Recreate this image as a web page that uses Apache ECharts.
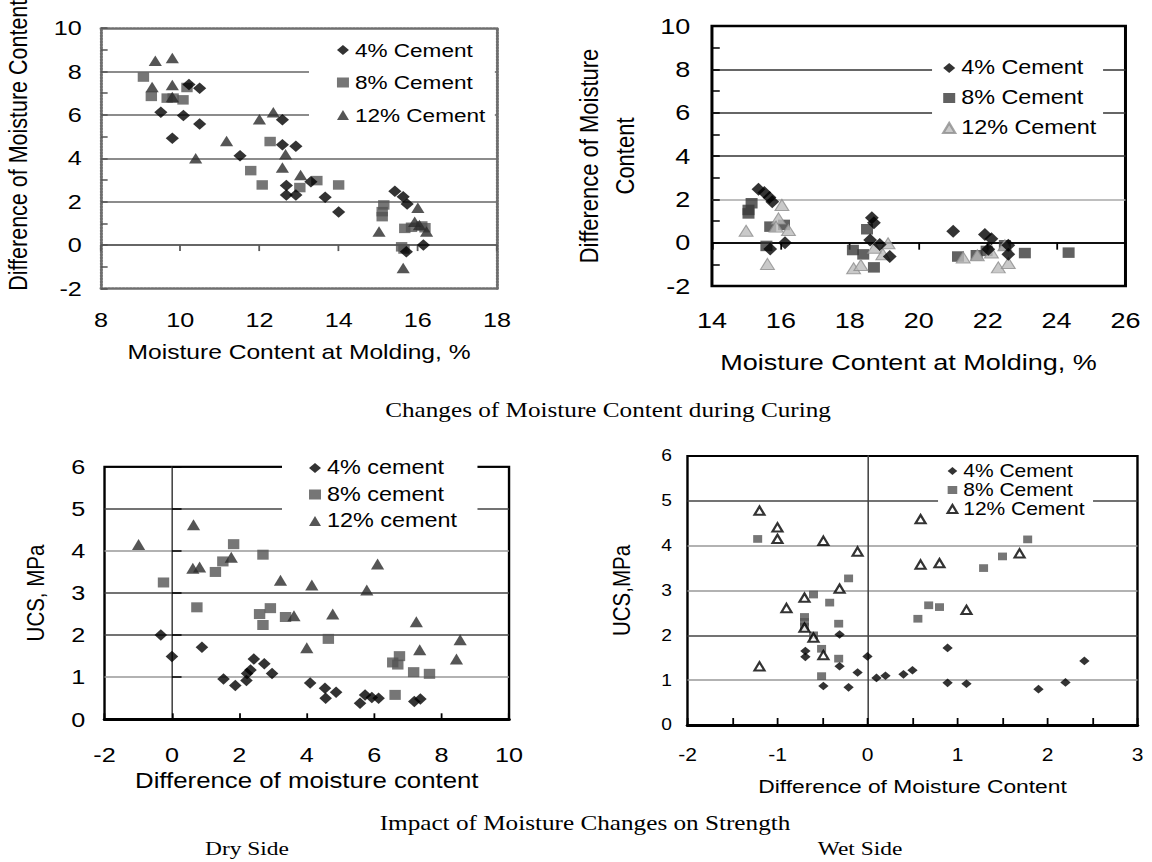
<!DOCTYPE html>
<html>
<head>
<meta charset="utf-8">
<script src="https://cdn.jsdelivr.net/npm/echarts@6/dist/echarts.min.js"></script>
<style>
  html, body { margin: 0; padding: 0; background: #fff; overflow: hidden; }
  #stage { width: 1152px; height: 862px; overflow: hidden; }
  /* the figure is laid out on a narrower canvas and widened horizontally */
  #chart { width: 960px; height: 862px; transform: scaleX(1.2); transform-origin: 0 0; }
</style>
</head>
<body>
<div id="stage"><div id="chart"></div></div>
<script>
// Change of moisture content during curing, specimens molded dry of optimum: [moisture at molding %, change %]
const curingDry4 = [[9.51,6.12],[9.8,4.92],[10.08,5.97],[10.22,7.4],[10.49,7.23],[10.49,5.58],[11.51,4.12],[12.58,5.77],[12.58,4.62],[12.92,4.55],[12.68,2.75],[12.68,2.31],[12.92,2.31],[13.3,2.92],[13.66,2.2],[14.0,1.52],[15.42,2.48],[15.63,2.23],[15.73,1.89],[15.71,-0.31],[16.14,0.0]];
const curingDry8 = [[9.07,7.74],[9.27,6.85],[9.67,6.77],[9.82,6.77],[10.07,6.69],[10.17,7.26],[11.78,3.43],[12.07,2.77],[12.27,4.77],[13.02,2.65],[13.45,2.97],[14.0,2.77],[15.14,1.85],[15.1,1.54],[15.1,1.31],[15.67,0.77],[15.84,0.82],[16.1,0.88],[16.18,0.8],[15.59,-0.08],[15.65,-0.18]];
const curingDry12 = [[9.37,8.49],[9.8,8.62],[9.29,7.28],[9.8,7.38],[9.8,6.82],[10.39,4.0],[11.17,4.8],[12.0,5.8],[12.35,6.12],[12.66,4.18],[12.58,3.57],[13.04,3.23],[15.02,0.62],[16.0,1.72],[15.92,1.08],[16.04,0.92],[16.22,0.62],[15.63,-1.05]];

// Same measurement for specimens molded wet of optimum
const curingWet4 = [[15.35,2.46],[15.52,2.31],[15.67,2.09],[15.75,1.89],[16.12,0.0],[15.69,-0.29],[18.64,1.15],[18.7,0.92],[18.59,0.12],[18.87,-0.08],[19.16,-0.64],[21.0,0.53],[21.92,0.38],[22.11,0.18],[22.02,-0.3],[22.6,-0.12],[22.6,-0.53]];
const curingWet8 = [[15.15,1.82],[15.06,1.51],[15.06,1.35],[15.69,0.74],[16.09,0.82],[15.58,-0.15],[18.5,0.62],[18.09,-0.34],[18.39,-0.54],[18.7,-1.14],[21.14,-0.64],[21.68,-0.58],[21.97,-0.38],[22.5,-0.12],[23.08,-0.48],[24.35,-0.46]];
const curingWet12 = [[14.99,0.55],[16.03,1.74],[15.93,1.12],[15.86,0.74],[16.22,0.58],[15.61,-0.98],[18.11,-1.18],[18.32,-1.03],[18.72,-0.23],[18.96,-0.53],[19.11,-0.03],[21.29,-0.68],[21.7,-0.58],[22.11,-0.45],[22.31,-1.14],[22.6,-0.94],[22.5,-0.12]];

// Unconfined compressive strength vs. moisture change: [difference of moisture content, UCS MPa]
const strengthDry4 = [[-0.33,2.0],[0.0,1.49],[0.89,1.71],[1.53,0.96],[1.88,0.8],[2.21,0.92],[2.23,1.09],[2.33,1.17],[2.43,1.43],[2.74,1.32],[2.97,1.09],[4.1,0.86],[4.54,0.74],[4.56,0.5],[4.87,0.64],[5.58,0.38],[5.73,0.58],[5.93,0.52],[6.13,0.5],[7.19,0.42],[7.37,0.48]];
const strengthDry8 = [[-0.25,3.25],[0.74,2.66],[1.29,3.5],[1.51,3.75],[1.83,4.16],[2.6,2.5],[2.7,2.24],[2.7,3.91],[2.92,2.64],[3.37,2.43],[4.64,1.91],[6.55,1.35],[6.7,1.3],[6.75,1.5],[7.17,1.12],[7.64,1.08],[6.62,0.58]];
const strengthDry12 = [[-0.99,4.15],[0.64,4.62],[0.62,3.59],[0.82,3.62],[1.76,3.85],[3.22,3.3],[3.62,2.46],[4.0,1.7],[4.15,3.19],[4.77,2.5],[5.78,3.07],[6.1,3.69],[7.25,2.32],[7.35,1.65],[8.44,1.43],[8.55,1.89]];

const strengthWet4 = [[-0.31,2.02],[-0.69,1.65],[-0.69,1.52],[-0.31,1.31],[-0.11,1.17],[0.0,1.53],[-0.49,0.87],[-0.21,0.84],[0.1,1.05],[0.2,1.1],[0.4,1.13],[0.5,1.22],[0.89,1.72],[0.89,0.94],[1.1,0.92],[1.9,0.8],[2.2,0.95],[2.41,1.43]];
const strengthWet8 = [[-1.22,4.15],[-0.21,3.27],[-0.6,2.91],[-0.42,2.73],[-0.7,2.41],[-0.7,2.3],[-0.7,2.19],[-0.32,2.26],[-0.6,2.0],[-0.51,1.7],[-0.32,1.48],[-0.51,1.09],[0.56,2.37],[0.68,2.67],[0.8,2.63],[1.29,3.5],[1.5,3.76],[1.78,4.14]];
const strengthWet12 = [[-1.2,4.78],[-1.0,4.41],[-1.0,4.15],[-0.49,4.11],[-0.11,3.87],[-0.31,3.04],[-0.7,2.84],[-0.9,2.61],[-0.7,2.17],[-0.6,1.95],[-0.49,1.56],[-1.2,1.31],[0.59,4.59],[0.59,3.58],[0.8,3.61],[1.1,2.57],[1.69,3.83]];

// Legend wording (upper- and lower-case variants)
const cementUpper = ['4% Cement', '8% Cement', '12% Cement'];
const cementLower = ['4% cement', '8% cement', '12% cement'];

// Captions
const captionCuring = 'Changes of Moisture Content during Curing';
const captionStrength = 'Impact of Moisture Changes on Strength';
const captionDry = 'Dry Side';
const captionWet = 'Wet Side';

const SANS = "'Liberation Sans', Arial, Helvetica, sans-serif";
const SERIF = "'Liberation Serif', 'Times New Roman', serif";

// series names carry a panel prefix "N|" so each legend picks up its own styling
const key = (panel, label) => panel + '|' + label;
const stripKey = name => name.split('|')[1];

function txt(size, extra) {
  return Object.assign({ color: '#000', fontFamily: SANS, fontSize: size }, extra || {});
}

// x axis holding the tick labels at the bottom edge of a panel
function labelAxisX(grid, min, max, interval, cfg) {
  return {
    gridIndex: grid, type: 'value', min: min, max: max, interval: interval, position: 'bottom',
    axisLine: cfg.axisLine || { show: false, onZero: false },
    axisTick: cfg.axisTick || { show: false },
    splitLine: { show: false },
    axisLabel: Object.assign({ margin: cfg.margin, showMinLabel: true, showMaxLabel: true }, txt(cfg.fontSize), cfg.formatter ? { formatter: cfg.formatter } : {}),
    name: cfg.name, nameLocation: 'middle', nameGap: cfg.nameGap,
    nameTextStyle: txt(cfg.nameSize, cfg.namePad ? { padding: cfg.namePad } : {})
  };
}

// x axis drawn along the zero line, carrying only downward tick marks
function zeroAxisX(grid, min, max, interval, color, tickLen) {
  return {
    gridIndex: grid, type: 'value', min: min, max: max, interval: interval, position: 'top',
    axisLine: { show: true, onZero: true, lineStyle: { color: color, width: 1.5 } },
    axisTick: { show: true, inside: true, length: tickLen, lineStyle: { color: color, width: 1.5 } },
    axisLabel: { show: false }, splitLine: { show: false }
  };
}

// y axis drawn at x = 0 inside a panel
function zeroAxisY(grid, min, max, interval, tick) {
  return {
    gridIndex: grid, type: 'value', min: min, max: max, interval: interval, position: 'left',
    axisLine: { show: true, onZero: true, lineStyle: { color: '#444', width: 1.3 } },
    axisTick: tick ? { show: true, inside: true, length: tick, lineStyle: { color: '#000', width: 1.5 } } : { show: false },
    axisLabel: { show: false }, splitLine: { show: false }
  };
}

// dotted frame edge of the first panel
const dottedEdge = { show: true, onZero: false, lineStyle: { color: '#6e6e6e', width: 2.5, type: [1.5, 1.5] } };
function frameAxis(dim, grid, min, max, position) {
  return {
    gridIndex: grid, type: 'value', min: min, max: max, position: position,
    axisLine: dottedEdge, axisTick: { show: false }, axisLabel: { show: false }, splitLine: { show: false }
  };
}

function scatter(name, xi, yi, data, symbol, size, style) {
  return {
    type: 'scatter', name: name, xAxisIndex: xi, yAxisIndex: yi, data: data,
    symbol: symbol, symbolSize: size, itemStyle: style, z: 3,
    emphasis: { disabled: true }
  };
}

const black = { color: '#000' };
const grey = { color: '#545454' };
const darkTri = { color: '#2a2a2a' };

function legend(panel, labels, box) {
  return {
    orient: 'vertical', left: box.left, top: box.top, padding: box.padding,
    backgroundColor: '#fff', itemWidth: box.icon, itemHeight: box.icon, itemGap: box.gap,
    selectedMode: false,
    formatter: stripKey,
    textStyle: txt(box.fontSize, { lineHeight: box.lineHeight }),
    data: labels.map(l => key(panel, l))
  };
}

const chart = echarts.init(document.getElementById('chart'), null, { renderer: 'svg' });

const option = {
  animation: false,
  backgroundColor: '#fff',
  textStyle: { fontFamily: SANS },
  grid: [
    { left: 84.2, top: 28, width: 330, height: 260.5, show: false, outerBoundsMode: 'none' },
    { left: 593.3, top: 26, width: 344.6, height: 260, show: true, borderColor: '#000', borderWidth: 2.5, backgroundColor: 'transparent', outerBoundsMode: 'none' },
    { left: 87.1, top: 466.7, width: 337.1, height: 252.6, show: true, borderColor: '#000', borderWidth: 2, backgroundColor: 'transparent', outerBoundsMode: 'none' },
    { left: 572.9, top: 456, width: 375, height: 269, show: true, borderColor: '#000', borderWidth: 2, backgroundColor: 'transparent', outerBoundsMode: 'none' }
  ],
  xAxis: [
    labelAxisX(0, 8, 18, 2, { margin: 21, fontSize: 21, name: 'Moisture Content at Molding, %', nameGap: 53.5, nameSize: 20.5, axisLine: dottedEdge }),
    zeroAxisX(0, 8, 18, 2, '#5a5a5a', 6),
    labelAxisX(1, 14, 26, 2, { margin: 23, fontSize: 22.5, name: 'Moisture Content at Molding, %', nameGap: 65, nameSize: 22.5, namePad: [0, 17, 0, 0] }),
    zeroAxisX(1, 14, 26, 2, '#000', 7),
    labelAxisX(2, -2, 10, 2, {
      margin: 25, fontSize: 21, name: 'Difference of moisture content', nameGap: 50, nameSize: 21.5,
      axisLine: { show: true, onZero: false, lineStyle: { color: '#000', width: 3 } },
      axisTick: { show: true, inside: true, length: 6, lineStyle: { color: '#000', width: 1.5 } }
    }),
    labelAxisX(3, -2, 3, 0.5, {
      margin: 21, fontSize: 17.5, name: 'Difference of Moisture Content', nameGap: 51.5, nameSize: 19,
      formatter: v => (Number.isInteger(v) ? String(v) : ''),
      axisLine: { show: true, onZero: false, lineStyle: { color: '#000', width: 3 } },
      axisTick: { show: true, inside: true, length: 7, lineStyle: { color: '#000', width: 1.5 } }
    }),
    frameAxis('x', 0, 8, 18, 'top')
  ],
  yAxis: [
    {
      gridIndex: 0, type: 'value', min: -2, max: 10, interval: 2, position: 'left',
      axisLine: dottedEdge,
      axisTick: { show: true, inside: true, length: 5.5, lineStyle: { color: '#555', width: 1.5 } },
      minorTick: { show: true, splitNumber: 2, length: 5.5, lineStyle: { color: '#555', width: 1.5 } },
      splitLine: { show: true, showMinLine: false, showMaxLine: false, lineStyle: { color: '#666', width: 1.5 } },
      axisLabel: Object.assign({ margin: 16, showMinLabel: true, showMaxLabel: true }, txt(21)),
      name: 'Difference of Moisture Content', nameLocation: 'middle', nameRotate: 90, nameGap: 58,
      nameTextStyle: txt(21.5, { padding: [0, 0, 0, 26] })
    },
    {
      gridIndex: 1, type: 'value', min: -2, max: 10, interval: 2, position: 'left',
      axisLine: { show: false, onZero: false },
      axisTick: { show: true, inside: true, length: 6.5, lineStyle: { color: '#000', width: 1.5 } },
      minorTick: { show: true, splitNumber: 2, length: 6.5, lineStyle: { color: '#000', width: 1.5 } },
      splitLine: { show: true, lineStyle: { color: ['#000', '#000', '#a8a8a8', '#333', '#333', '#333', '#000'], width: 1.5 } },
      axisLabel: Object.assign({ margin: 18, showMinLabel: true, showMaxLabel: true }, txt(22.5)),
      name: 'Difference of Moisture\nContent', nameLocation: 'middle', nameRotate: 90, nameGap: 58,
      nameTextStyle: txt(22, { lineHeight: 30 })
    },
    {
      gridIndex: 2, type: 'value', min: 0, max: 6, interval: 1, position: 'left',
      axisLine: { show: false, onZero: false }, axisTick: { show: false },
      splitLine: { show: true, lineStyle: { color: ['#000', '#999', '#444', '#444', '#999', '#444', '#000'], width: 1.5 } },
      axisLabel: Object.assign({ margin: 16, showMinLabel: true, showMaxLabel: true }, txt(21)),
      name: 'UCS, MPa', nameLocation: 'middle', nameRotate: 90, nameGap: 47,
      nameTextStyle: txt(20.5)
    },
    zeroAxisY(2, 0, 6, 1, 8),
    {
      gridIndex: 3, type: 'value', min: 0, max: 6, interval: 1, position: 'left',
      axisLine: { show: false, onZero: false }, axisTick: { show: false },
      splitLine: { show: true, lineStyle: { color: ['#000', '#999', '#444', '#999', '#999', '#444', '#000'], width: 1.5 } },
      axisLabel: Object.assign({ margin: 13, showMinLabel: true, showMaxLabel: true }, txt(16)),
      name: 'UCS,MPa', nameLocation: 'middle', nameRotate: 90, nameGap: 44,
      nameTextStyle: txt(20.5)
    },
    zeroAxisY(3, 0, 6, 1, 0),
    frameAxis('y', 0, -2, 10, 'right')
  ],
  legend: [
    legend(1, cementUpper, { left: 257.5, top: 34, padding: [6, 8, 8, 23.3], icon: 10, gap: 12.5, fontSize: 18.8, lineHeight: 20 }),
    legend(2, cementUpper, { left: 776.7, top: 48, padding: [10, 5.5, 8, 8.3], icon: 10, gap: 10, fontSize: 19.5, lineHeight: 20 }),
    legend(3, cementLower, { left: 235, top: 452, padding: [6, 17, 10, 22.5], icon: 10, gap: 6.5, fontSize: 19.5, lineHeight: 20 }),
    legend(4, cementUpper, { left: 781.7, top: 458, padding: [4, 7, 6, 7], icon: 8, gap: 1, fontSize: 17.5, lineHeight: 18 })
  ],
  series: [
    // curing, dry side
    scatter(key(1, cementUpper[1]), 0, 0, curingDry8, 'rect', [9.5, 9.5], grey),
    scatter(key(1, cementUpper[2]), 0, 0, curingDry12, 'triangle', [11, 10.5], darkTri),
    scatter(key(1, cementUpper[0]), 0, 0, curingDry4, 'diamond', [11, 11.5], black),
    // curing, wet side
    scatter(key(2, cementUpper[1]), 2, 1, curingWet8, 'rect', [10, 10.5], { color: '#3a3a3a' }),
    scatter(key(2, cementUpper[2]), 2, 1, curingWet12, 'triangle', [11.5, 11], { color: '#bcbcbc', borderColor: '#8d8d8d', borderWidth: 1 }),
    scatter(key(2, cementUpper[0]), 2, 1, curingWet4, 'diamond', [11.5, 13], black),
    // strength, dry side
    scatter(key(3, cementLower[1]), 4, 2, strengthDry8, 'rect', [9.5, 10], grey),
    scatter(key(3, cementLower[2]), 4, 2, strengthDry12, 'triangle', [11, 11], darkTri),
    scatter(key(3, cementLower[0]), 4, 2, strengthDry4, 'diamond', [10.5, 11.5], black),
    // strength, wet side
    scatter(key(4, cementUpper[1]), 5, 4, strengthWet8, 'rect', [7.5, 7.7], grey),
    scatter(key(4, cementUpper[0]), 5, 4, strengthWet4, 'diamond', [8.6, 8.6], black),
    scatter(key(4, cementUpper[2]), 5, 4, strengthWet12, 'triangle', [8.3, 8.3], { color: '#fff', borderColor: '#000', borderWidth: 2 })
  ],
  graphic: [
    { type: 'text', x: 506.7, y: 410, style: { text: captionCuring, font: '21px ' + SERIF, fill: '#000', align: 'center', verticalAlign: 'middle' } },
    { type: 'text', x: 487.5, y: 823, style: { text: captionStrength, font: '21px ' + SERIF, fill: '#000', align: 'center', verticalAlign: 'middle' } },
    { type: 'text', x: 205.8, y: 849, style: { text: captionDry, font: '19.5px ' + SERIF, fill: '#000', align: 'center', verticalAlign: 'middle' } },
    { type: 'text', x: 716.7, y: 849, style: { text: captionWet, font: '19.5px ' + SERIF, fill: '#000', align: 'center', verticalAlign: 'middle' } }
  ]
};

chart.setOption(option);
</script>
</body>
</html>
